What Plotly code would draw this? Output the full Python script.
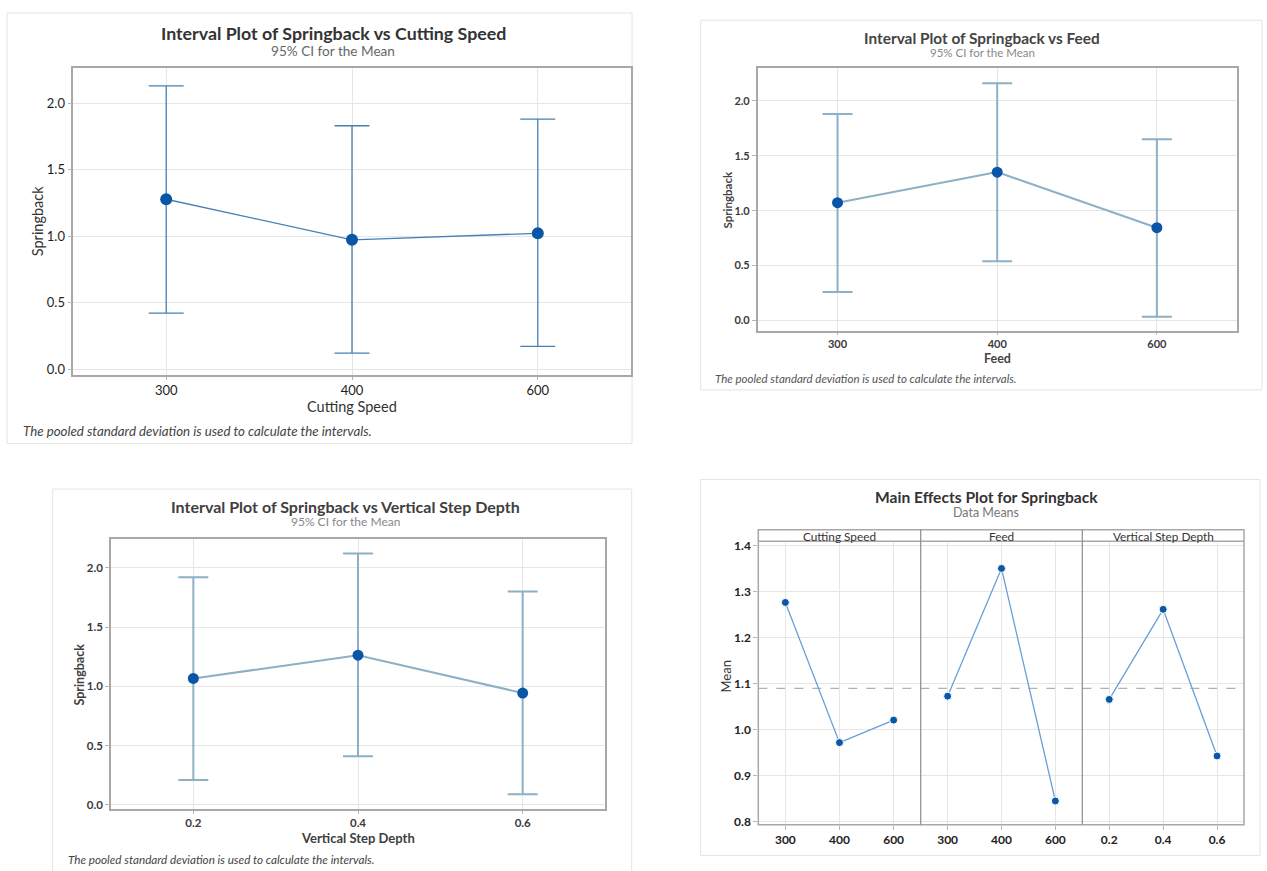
import plotly.graph_objects as go

# ---- data ----
speed_levels = ["300", "400", "600"]
speed_mean = [1.277, 0.972, 1.021]
speed_lower = [0.42, 0.12, 0.17]
speed_upper = [2.13, 1.83, 1.88]

feed_levels = ["300", "400", "600"]
feed_mean = [1.073, 1.351, 0.845]
feed_lower = [0.26, 0.54, 0.035]
feed_upper = [1.88, 2.16, 1.65]

depth_levels = ["0.2", "0.4", "0.6"]
depth_mean = [1.066, 1.262, 0.943]
depth_lower = [0.21, 0.41, 0.09]
depth_upper = [1.92, 2.12, 1.80]

interval_ticks = [0.0, 0.5, 1.0, 1.5, 2.0]
effects_ticks = [0.8, 0.9, 1.0, 1.1, 1.2, 1.3, 1.4]

W, H = 1267, 871
FONT = "Lato, 'Open Sans', sans-serif"


def X(px):
    return px / W


def Y(py):
    return 1 - py / H


def err(mean, lower, upper):
    return ([u - m for m, u in zip(mean, upper)],
            [m - l for m, l in zip(mean, lower)])


fig = go.Figure()

# ---- interval plots ----
panels = [
    dict(x=speed_levels, m=speed_mean, lo=speed_lower, hi=speed_upper,
         xa="x", ya="y", line="#4580b6", cap=17.5, msize=12, lw=1.3),
    dict(x=feed_levels, m=feed_mean, lo=feed_lower, hi=feed_upper,
         xa="x2", ya="y2", line="#8db0c6", cap=15, msize=11, lw=2),
    dict(x=depth_levels, m=depth_mean, lo=depth_lower, hi=depth_upper,
         xa="x3", ya="y3", line="#8db0c6", cap=15, msize=11, lw=2),
]
for p in panels:
    plus, minus = err(p["m"], p["lo"], p["hi"])
    fig.add_trace(go.Scatter(
        x=p["x"], y=p["m"], xaxis=p["xa"], yaxis=p["ya"],
        mode="lines+markers",
        line=dict(color=p["line"], width=p["lw"]),
        marker=dict(color="#0a55a6", size=p["msize"]),
        error_y=dict(type="data", array=plus, arrayminus=minus, symmetric=False,
                     color=p["line"], thickness=p["lw"], width=p["cap"]),
        showlegend=False, hoverinfo="x+y",
    ))

# ---- main effects plot ----
for lv, mn, xa in [(speed_levels, speed_mean, "x4"),
                   (feed_levels, feed_mean, "x5"),
                   (depth_levels, depth_mean, "x6")]:
    fig.add_trace(go.Scatter(
        x=lv, y=mn, xaxis=xa, yaxis="y4", mode="lines+markers",
        line=dict(color="#6a9fd6", width=1.3),
        marker=dict(color="#0b57a7", size=8, line=dict(color="white", width=1)),
        showlegend=False, hoverinfo="x+y",
    ))

grand_mean = sum(speed_mean + feed_mean + depth_mean) / 9

grid = "#e6e6e6"
frame = "#a8a8a8"


def xax(dom, anchor, size, color, weight="normal", line=True, tl=4):
    return dict(domain=dom, anchor=anchor, type="category", range=[-0.5, 2.5],
                showgrid=True, gridcolor=grid, gridwidth=1,
                showline=line, mirror=line, linecolor=frame, linewidth=1.5,
                ticks="outside", ticklen=tl, tickcolor="#b5b5b5",
                tickfont=dict(family=FONT, size=size, color=color, weight=weight),
                zeroline=False, fixedrange=True)


def yax(dom, anchor, rng, vals, size, color, weight="normal", line=True):
    return dict(domain=dom, anchor=anchor, range=rng, tickvals=vals, tickformat=".1f",
                showgrid=True, gridcolor=grid, gridwidth=1,
                showline=line, mirror=line, linecolor=frame, linewidth=1.5,
                ticks="outside", ticklen=4, tickcolor="#b5b5b5",
                tickfont=dict(family=FONT, size=size, color=color, weight=weight),
                zeroline=False, fixedrange=True)


fig.update_layout(
    width=W, height=H, autosize=False,
    margin=dict(l=0, r=0, t=0, b=0),
    paper_bgcolor="white", plot_bgcolor="white",
    font=dict(family=FONT),
    xaxis=xax([X(73.3), X(630.7)], "y", 13, "#1e1e1e", tl=3),
    yaxis=yax([Y(375), Y(66)], "x", [-0.045, 2.261], interval_ticks, 13, "#1e1e1e"),
    xaxis2=xax([X(757.7), X(1236.7)], "y2", 11, "#3a3a3a", "bold", tl=2),
    yaxis2=yax([Y(331), Y(65.7)], "x2", [-0.099, 2.298], interval_ticks, 11, "#3a3a3a", "bold"),
    xaxis3=xax([X(111), X(605)], "y3", 11.5, "#3a3a3a", "bold", tl=3),
    yaxis3=yax([Y(812.3), Y(540)], "x3", [-0.033, 2.245], interval_ticks, 11.5, "#3a3a3a", "bold"),
    xaxis4=xax([X(758.3), X(920.7)], "y4", 12, "#222222", "bold", line=False),
    xaxis5=xax([X(920.7), X(1082.3)], "y4", 12, "#222222", "bold", line=False),
    xaxis6=xax([X(1082.3), X(1244)], "y4", 12, "#222222", "bold", line=False),
    yaxis4=yax([Y(828.3), Y(542.7)], "x4", [0.7935, 1.41], effects_ticks, 12, "#222222", "bold", line=False),
)

shapes = []
# panel cards
for x0, y0, x1, y1 in [(7, 10, 632, 444), (700.7, 17.3, 1262, 390),
                       (52.7, 490, 631.7, 880), (700.7, 480.3, 1260, 859.3)]:
    shapes.append(dict(type="rect", xref="paper", yref="paper",
                       x0=X(x0), x1=X(x1), y0=Y(y1), y1=Y(y0),
                       line=dict(color="#e4e4e4", width=1), fillcolor="rgba(0,0,0,0)",
                       layer="below"))
# main effects reference line
shapes.append(dict(type="line", xref="paper", yref="y4", x0=X(758.3), x1=X(1244),
                   y0=grand_mean, y1=grand_mean,
                   line=dict(color="#b0b0b0", width=1.2, dash="dash"), layer="below"))
# main effects frame, strip and facet separators
shapes.append(dict(type="rect", xref="paper", yref="paper",
                   x0=X(758.3), x1=X(1244), y0=Y(828.3), y1=Y(531),
                   line=dict(color=frame, width=1.5)))
shapes.append(dict(type="line", xref="paper", yref="paper",
                   x0=X(758.3), x1=X(1244), y0=Y(542.7), y1=Y(542.7),
                   line=dict(color=frame, width=1.5)))
for sx in (920.7, 1082.3):
    shapes.append(dict(type="line", xref="paper", yref="paper",
                       x0=X(sx), x1=X(sx), y0=Y(828.3), y1=Y(531),
                       line=dict(color="#8c8c8c", width=1.2)))
fig.update_layout(shapes=shapes)

ann = []


def text(x, y, s, size, color, weight="normal", xanchor="center", angle=0, italic=False):
    ann.append(dict(x=X(x), y=Y(y), xref="paper", yref="paper", text=s,
                    showarrow=False, xanchor=xanchor, yanchor="middle", textangle=angle,
                    font=dict(family=FONT, size=size, color=color, weight=weight,
                              style="italic" if italic else "normal")))


foot = "The pooled standard deviation is used to calculate the intervals."

# panel 1
text(333, 30, "Interval Plot of Springback vs Cutting Speed", 17.8, "#333333", "bold")
text(333, 48, "95% CI for the Mean", 13.6, "#666666")
text(352, 407, "Cutting Speed", 14.5, "#333333")
text(37, 220, "Springback", 14.5, "#333333", angle=-90)
text(21, 431, foot, 13.3, "#444444", xanchor="left", italic=True)

# panel 2
text(982, 35, "Interval Plot of Springback vs Feed", 15.4, "#444444", "bold")
text(982, 50, "95% CI for the Mean", 11.5, "#888888")
text(997, 358, "Feed", 12.5, "#444444", "bold")
text(727, 198, "Springback", 11.5, "#444444", "bold", angle=-90)
text(713, 379, foot, 11.5, "#555555", xanchor="left", italic=True)

# panel 3
text(345, 508, "Interval Plot of Springback vs Vertical Step Depth", 16, "#404040", "bold")
text(345, 523, "95% CI for the Mean", 12, "#888888")
text(358, 842, "Vertical Step Depth", 13, "#404040", "bold")
text(80, 677, "Springback", 12.5, "#404040", "bold", angle=-90)
text(66, 863, foot, 11.7, "#444444", xanchor="left", italic=True)

# panel 4
text(986, 498, "Main Effects Plot for Springback", 15.6, "#333333", "bold")
text(986, 514, "Data Means", 12.5, "#777777")
text(726, 679, "Mean", 13, "#333333", angle=-90)
for cx, s in [(839.5, "Cutting Speed"), (1001.5, "Feed"), (1163, "Vertical Step Depth")]:
    text(cx, 538, s, 11.8, "#333333")

fig.update_layout(annotations=ann)

fig.write_html("out.html")
